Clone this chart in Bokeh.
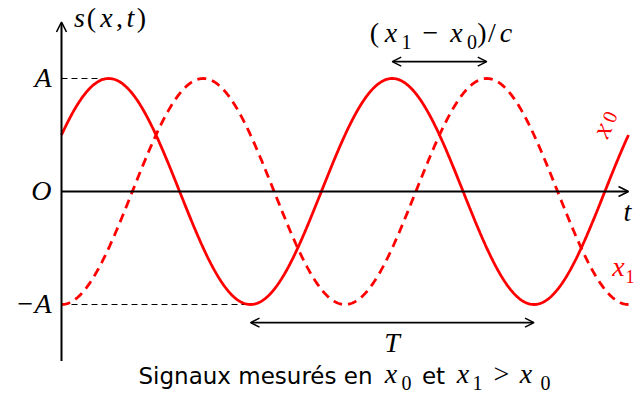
import numpy as np
from bokeh.plotting import figure
from bokeh.models import Range1d, Label, Arrow, OpenHead
from bokeh.embed import file_html
from bokeh.resources import INLINE

# Signal parameters (time in units of the period T, amplitude in units of A)
PERIOD = 1.0
AMPLITUDE = 1.0
PHASE_X0 = np.pi / 6          # phase of the signal measured at x0 at t = 0
DELAY = 1.0 / 3.0             # propagation delay (x1 - x0)/c, in periods
T_END = 2.0                   # end of the time axis
S_AXIS = 1.5                  # half-length of the vertical axis

level_values = [AMPLITUDE, 0.0, -AMPLITUDE]
level_labels = ["A", "O", "\u2212A"]

t = np.linspace(0.0, T_END, 800)
omega = 2 * np.pi / PERIOD
s_x0 = AMPLITUDE * np.sin(omega * t + PHASE_X0)
s_x1 = AMPLITUDE * np.sin(omega * (t - DELAY) + PHASE_X0)

# times of the extrema used for the annotations
t_peak0 = (np.pi / 2 - PHASE_X0) / omega               # first maximum at x0
t_trough0 = (3 * np.pi / 2 - PHASE_X0) / omega         # first minimum at x0
t_peak0_b = t_peak0 + PERIOD                           # second maximum at x0
t_peak1_b = t_peak0_b + DELAY                          # matching maximum at x1

W, H = 636, 394
X0, X1 = -61 / 283.5, 575 / 283.5
Y0, Y1 = -203 / 113, 191 / 113

p = figure(width=W, height=H, x_range=Range1d(X0, X1), y_range=Range1d(Y0, Y1),
           output_backend="svg", toolbar_location=None, min_border=0)
p.axis.visible = False
p.grid.visible = False
p.outline_line_color = None
p.background_fill_color = "white"
p.border_fill_color = "white"

MATH = 28   # size of math letters
SUB = 20    # size of subscripts


def px(xp, yp):
    """Canvas pixel position -> data coordinates."""
    return X0 + xp / W * (X1 - X0), Y1 - yp / H * (Y1 - Y0)


def label(text, xp, yp, size=MATH, font="Liberation Serif", style="italic",
          color="black", align="center", angle=0.0):
    """Place a text run with its baseline at canvas pixel row yp."""
    x, y = px(xp, yp - 0.38 * size)
    p.add_layout(Label(x=x, y=y, text=text, text_font=font, text_font_style=style,
                       text_font_size=f"{size}px", text_color=color,
                       text_align=align, text_baseline="alphabetic", angle=angle))


RED = "#ff0000"

# reference lines at +A and -A
p.line([0, t_peak0], [AMPLITUDE, AMPLITUDE], color="black", line_width=1, line_dash="6 4")
p.line([0, t_trough0], [-AMPLITUDE, -AMPLITUDE], color="black", line_width=1, line_dash="6 4")

# axes
p.add_layout(Arrow(x_start=0, y_start=-S_AXIS, x_end=0, y_end=S_AXIS, line_width=2,
                   end=OpenHead(size=10, line_width=1.6)))
p.add_layout(Arrow(x_start=0, y_start=0, x_end=T_END, y_end=0, line_width=2,
                   end=OpenHead(size=10, line_width=1.6)))

# signals
p.line(t, s_x1, color=RED, line_width=2.8, line_dash="9 6")
p.line(t, s_x0, color=RED, line_width=2.8)

# period and delay arrows
y_T = -1.16
p.add_layout(Arrow(x_start=t_trough0, y_start=y_T, x_end=t_trough0 + PERIOD, y_end=y_T,
                   line_width=1.7, start=OpenHead(size=9, line_width=1.5),
                   end=OpenHead(size=9, line_width=1.5)))
y_D = 1.15
p.add_layout(Arrow(x_start=t_peak0_b, y_start=y_D, x_end=t_peak1_b, y_end=y_D,
                   line_width=1.7, start=OpenHead(size=9, line_width=1.5),
                   end=OpenHead(size=9, line_width=1.5)))

# level labels on the vertical axis (baseline ~9.5 px below each level)
for val, txt in zip(level_values, level_labels):
    yp = Y1 * H / (Y1 - Y0) - val * H / (Y1 - Y0)
    label(txt, 51, yp + 9.5, align="right")

# axis titles
label("s", 79, 28)
label("(", 91, 28, style="normal")
label("x", 106, 28)
label(",", 119, 28, style="normal")
label("t", 130, 28)
label(")", 141, 28, style="normal")
label("t", 627, 222)

# period label
label("T", 391.5, 353)

# delay label (x1 - x0)/c
label("(", 374, 43, style="normal")
label("x", 390.5, 43)
label("1", 406, 49, size=SUB, style="normal")
label("\u2212", 430, 43, style="normal")
label("x", 456, 43)
label("0", 471.5, 49, size=SUB, style="normal")
label(")", 481.5, 43, style="normal")
label("/", 491.5, 43, style="normal")
label("c", 505.5, 43)

# curve names
ang = np.deg2rad(66)
label("x", 601, 140, color=RED, angle=ang)
label("0", 609, 124, size=SUB, style="normal", color=RED, angle=ang)
label("x", 618, 277, color=RED)
label("1", 629.5, 283, size=18, style="normal", color=RED)

# caption
SANS = "DejaVu Sans"
label("Signaux mesurés en", 138, 384, size=23, font=SANS, style="normal", align="left")
label("x", 390.5, 384)
label("0", 406, 390, size=SUB, style="normal")
label("et", 433, 384, size=23, font=SANS, style="normal")
label("x", 462.5, 384)
label("1", 477, 390, size=SUB, style="normal")
label(">", 501, 384, style="normal")
label("x", 525.5, 384)
label("0", 545, 390, size=SUB, style="normal")

open("out.html", "w").write(file_html(p, INLINE))
